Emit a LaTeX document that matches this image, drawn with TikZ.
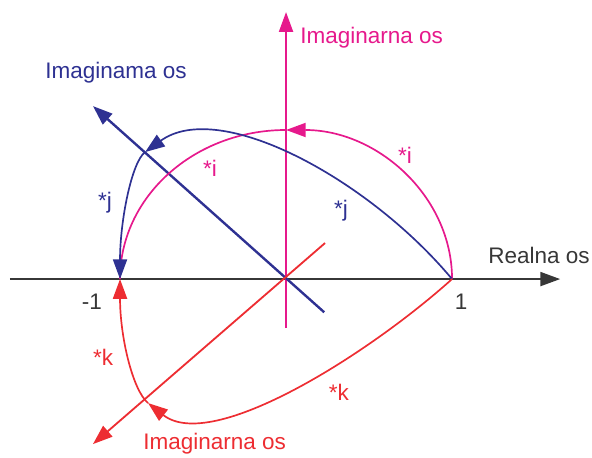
\documentclass[tikz,border=0pt]{standalone}
\usepackage{fontspec}
\setmainfont{Liberation Sans}
\usetikzlibrary{arrows.meta}
\definecolor{ruzicasta}{RGB}{230,25,140}
\definecolor{plava}{RGB}{46,49,146}
\definecolor{crvena}{RGB}{237,45,50}
\definecolor{siva}{RGB}{55,55,55}
\begin{document}
\begin{tikzpicture}[x=4.15cm, y=4.15cm, >={Triangle[length=14pt,width=10pt]},
    font=\fontsize{16}{19}\selectfont, lbl/.style={inner sep=0pt}]
    % Okvir slike
    \useasboundingbox (-1.723,-1.072) rectangle (1.843,1.681);

    % 1. Tacke na krivuljama i krajevi osi
    \coordinate (O) at (0,0);
    \coordinate (jedan) at (1,0);
    \coordinate (minusjedan) at (-1,0);
    \coordinate (Ti) at (0,0.898);
    \coordinate (Tj) at (-0.849,0.765);
    \coordinate (Tk) at (-0.831,-0.747);
    \coordinate (realL) at (-1.663,0);
    \coordinate (realR) at (1.651,0);
    \coordinate (osiD) at (0,-0.295);
    \coordinate (osiG) at (0,1.608);
    \coordinate (osjD) at (0.23,-0.2);
    \coordinate (osjG) at (-1.163,1.042);
    \coordinate (oskG) at (0.235,0.217);
    \coordinate (oskD) at (-1.163,-0.994);

    % 2. Osi: realna i tri imaginarne
    \draw[->, siva, line width=1.1pt] (realL) -- (realR);
    \draw[->, ruzicasta, line width=1.1pt] (osiD) -- (osiG);
    \draw[->, plava, line width=1.7pt] (osjD) -- (osjG);
    \draw[->, crvena, line width=1.3pt] (oskG) -- (oskD);

    % 3. Rotacija *i (ruzicasta elipsa)
    \draw[->, ruzicasta, line width=1.2pt] (jedan) arc[start angle=0, end angle=90, x radius=1, y radius=0.898];
    \draw[ruzicasta, line width=1.2pt] (Ti) arc[start angle=90, end angle=180, x radius=1, y radius=0.898];

    % 4. Rotacija *j (plava)
    \draw[->, plava, line width=1.2pt] (jedan) .. controls (0.5,0.6) and (-0.4,1.09) .. (Tj);
    \draw[->, plava, line width=1.2pt] (Tj) .. controls (-0.93,0.705) and (-1,0.35) .. (minusjedan);

    % 5. Rotacija *k (crvena)
    \draw[->, crvena, line width=1.2pt] (jedan) .. controls (0.5,-0.45) and (-0.446,-1.05) .. (Tk);
    \draw[->, crvena, line width=1.2pt] (Tk) .. controls (-0.923,-0.671) and (-1,-0.35) .. (minusjedan);

    % 6. Natpisi
    \node[lbl, ruzicasta, anchor=west] (nazivI) at (0.084,1.452) {Imaginarna os};
    \node[lbl, plava, anchor=west] (nazivJ) at (-1.452,1.241) {Imaginama os};
    \node[lbl, crvena, anchor=west] (nazivK) at (-0.861,-0.99) {Imaginarna os};
    \node[lbl, siva, anchor=west] (nazivR) at (1.217,0.145) {Realna os};
    \node[lbl, siva] (brM1) at (-1.169,-0.139) {-1};
    \node[lbl, siva] (br1) at (1.054,-0.139) {1};

    \node[lbl, ruzicasta] (i1) at (-0.458,0.669) {*i};
    \node[lbl, ruzicasta] (i2) at (0.717,0.747) {*i};
    \node[lbl, plava] (j1) at (-1.09,0.458) {*j};
    \node[lbl, plava] (j2) at (0.331,0.41) {*j};
    \node[lbl, crvena] (k1) at (-1.102,-0.47) {*k};
    \node[lbl, crvena] (k2) at (0.319,-0.681) {*k};

\end{tikzpicture}
\end{document}
